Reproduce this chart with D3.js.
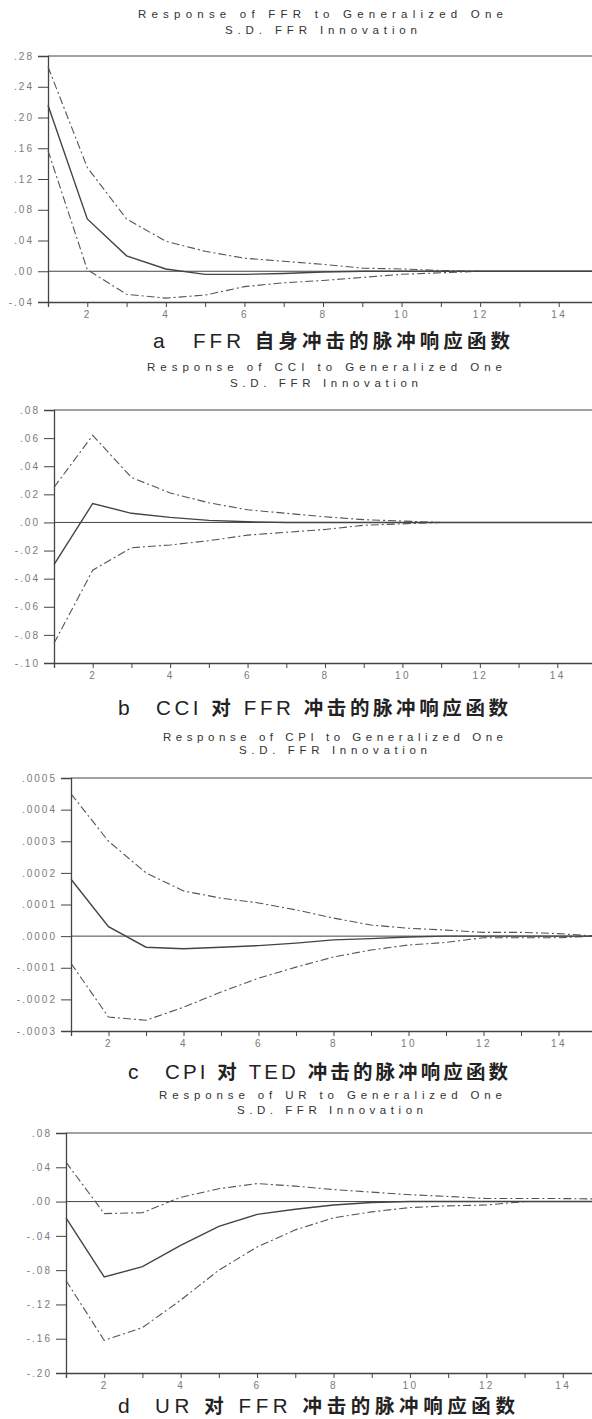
<!DOCTYPE html>
<html><head><meta charset="utf-8">
<script src="https://cdn.jsdelivr.net/npm/d3@7"></script>
<style>body{margin:0;background:#fff;}svg{display:block;}</style>
</head><body>
<script>
// ---------- DATA ----------
const periods = [1,2,3,4,5,6,7,8,9,10,11,12,13,14,15];
const xTickLabels = [2,4,6,8,10,12,14];

// a: FFR response
const ffrResp  = [0.216,0.068,0.020,0.003,-0.004,-0.004,-0.003,-0.001,0,0,0,0,0,0,0];
const ffrUpper = [0.266,0.135,0.068,0.039,0.026,0.017,0.013,0.009,0.004,0.003,0.001,0,0,0,0];
const ffrLower = [0.157,0.002,-0.030,-0.035,-0.031,-0.020,-0.015,-0.012,-0.008,-0.004,-0.002,0,0,0,0];
const ffrTicks = [0.28,0.24,0.20,0.16,0.12,0.08,0.04,0.00,-0.04];

// b: CCI response
const cciResp  = [-0.030,0.0135,0.0065,0.0036,0.0015,0.0005,0,0,0,0,0,0,0,0,0];
const cciUpper = [0.025,0.062,0.032,0.021,0.014,0.009,0.0065,0.004,0.002,0.001,0,0,0,0,0];
const cciLower = [-0.086,-0.034,-0.018,-0.016,-0.013,-0.009,-0.007,-0.005,-0.002,-0.001,0,0,0,0,0];
const cciTicks = [0.08,0.06,0.04,0.02,0.00,-0.02,-0.04,-0.06,-0.08,-0.10];

// c: CPI response
const cpiResp  = [0.00018,0.00003,-0.000035,-0.00004,-0.000035,-0.00003,-0.000022,-0.000012,-0.000008,-0.000003,0,0,0,0,0];
const cpiUpper = [0.00045,0.00030,0.00020,0.000143,0.00012,0.000105,0.000083,0.000057,0.000035,0.000025,0.000019,0.000012,0.000012,0.000008,0];
const cpiLower = [-0.000086,-0.000256,-0.000266,-0.000225,-0.000177,-0.000133,-0.000098,-0.000066,-0.000044,-0.000028,-0.00002,-0.000005,-0.000005,-0.000005,0];
const cpiTicks = [0.0005,0.0004,0.0003,0.0002,0.0001,0.0000,-0.0001,-0.0002,-0.0003];

// d: UR response
const urResp  = [-0.019,-0.088,-0.076,-0.051,-0.029,-0.015,-0.009,-0.004,-0.001,0,0,0,0,0,0];
const urUpper = [0.046,-0.014,-0.013,0.005,0.015,0.021,0.018,0.014,0.011,0.008,0.006,0.0035,0.0035,0.0035,0.003];
const urLower = [-0.092,-0.162,-0.147,-0.115,-0.080,-0.053,-0.033,-0.019,-0.012,-0.007,-0.005,-0.004,0,0,0];
const urTicks = [0.08,0.04,0.00,-0.04,-0.08,-0.12,-0.16,-0.20];

const titles1 = ["Response of FFR to Generalized One","Response of CCI to Generalized One","Response of CPI to Generalized One","Response of UR to Generalized One"];
const titles2 = ["S.D. FFR Innovation","S.D. FFR Innovation","S.D. FFR Innovation","S.D. FFR Innovation"];
const capLetters = ["a","b","c","d"];
const captions = ["FFR 自身冲击的脉冲响应函数","CCI 对 FFR 冲击的脉冲响应函数","CPI 对 TED 冲击的脉冲响应函数","UR 对 FFR 冲击的脉冲响应函数"];

// ---------- LAYOUT ----------
const panels = [
  {resp:ffrResp, up:ffrUpper, lo:ffrLower, ticks:ffrTicks, dec:2, yDom:[-0.04,0.28], yR:[302,56], xL:48, xR:598,
   t1:[138,503,18], t2:[225,417,34], cap:[153,193,510,348]},
  {resp:cciResp, up:cciUpper, lo:cciLower, ticks:cciTicks, dec:2, yDom:[-0.10,0.08], yR:[663,410], xL:54, xR:596,
   t1:[147,502,371], t2:[230,418,387], cap:[118,156,508,715]},
  {resp:cpiResp, up:cpiUpper, lo:cpiLower, ticks:cpiTicks, dec:4, yDom:[-0.0003,0.0005], yR:[1031,778], xL:71, xR:596,
   t1:[163,503,741], t2:[239,427,754], cap:[128,165,508,1079]},
  {resp:urResp, up:urUpper, lo:urLower, ticks:urTicks, dec:2, yDom:[-0.20,0.08], yR:[1373,1133], xL:66, xR:601,
   t1:[159,502,1099], t2:[237,423,1114], cap:[118,155,515,1413]}
];

const W = 592, H = 1419;
const svg = d3.select("body").append("svg").attr("width", W).attr("height", H);
const LAT = "Liberation Sans, Arial, sans-serif";
const CJK = "Noto Sans CJK SC, sans-serif";

function fmt(v, dec){
  let s = Math.abs(v).toFixed(dec).replace(/^0\./, ".");
  return (v < -1e-12 ? "-" : "") + s;
}

panels.forEach((p, i) => {
  const g = svg.append("g");
  const x = d3.scaleLinear().domain([1,15]).range([p.xL, p.xR]);
  const y = d3.scaleLinear().domain(p.yDom).range(p.yR);

  // titles
  const tstyle = sel => sel.attr("font-family",LAT)
    .attr("font-size",11.5).attr("fill","#333").attr("lengthAdjust","spacing");
  g.append("text").call(tstyle).attr("x",p.t1[0]).attr("y",p.t1[2])
    .attr("textLength",p.t1[1]-p.t1[0]).text(titles1[i]);
  g.append("text").call(tstyle).attr("x",p.t2[0]).attr("y",p.t2[2])
    .attr("textLength",p.t2[1]-p.t2[0]).text(titles2[i]);

  const top = p.yR[1], bot = p.yR[0];
  g.append("line").attr("x1",p.xL).attr("x2",W).attr("y1",top).attr("y2",top)
    .attr("stroke","#444").attr("stroke-width",1);

  // y axis
  const yAxis = d3.axisLeft(y).tickValues(p.ticks).tickSize(10).tickPadding(4)
    .tickFormat(d => fmt(d, p.dec));
  const ya = g.append("g").attr("transform",`translate(${p.xL},0)`).call(yAxis);
  ya.select(".domain").attr("stroke","#444").attr("stroke-width",1.3);
  ya.selectAll(".tick line").attr("stroke","#444");
  ya.selectAll(".tick text").attr("fill","#7a7a7a").attr("font-size",10)
    .attr("font-family",LAT).attr("letter-spacing","2px");

  // x axis
  const xAxis = d3.axisBottom(x).tickValues(d3.range(2,16)).tickSize(5).tickPadding(4)
    .tickFormat(d => xTickLabels.includes(d) ? String(d) : "");
  const xa = g.append("g").attr("transform",`translate(0,${bot})`).call(xAxis);
  xa.select(".domain").attr("stroke","#444").attr("stroke-width",1.3);
  xa.selectAll(".tick line").attr("stroke","#444");
  xa.selectAll(".tick text").attr("fill","#7a7a7a").attr("font-size",10)
    .attr("font-family",LAT).attr("letter-spacing","2.4px");

  // zero line
  g.append("line").attr("x1",p.xL).attr("x2",W).attr("y1",y(0)).attr("y2",y(0))
    .attr("stroke","#444").attr("stroke-width",1);

  const line = d3.line().x((d,k) => x(periods[k])).y(d => y(d));
  [p.up, p.lo].forEach(arr => {
    g.append("path").datum(arr).attr("d",line).attr("fill","none")
      .attr("stroke","#555").attr("stroke-width",1.1).attr("stroke-dasharray","8,3,2,3");
  });
  g.append("path").datum(p.resp).attr("d",line).attr("fill","none")
    .attr("stroke","#444").attr("stroke-width",1.4);

  // caption
  g.append("text").attr("x",p.cap[0]).attr("y",p.cap[3]).attr("font-family",LAT)
    .attr("font-size",21).attr("fill","#222").text(capLetters[i]);
  const ct = g.append("text").attr("x",p.cap[1]).attr("y",p.cap[3])
    .attr("textLength",p.cap[2]-p.cap[1]).attr("lengthAdjust","spacing")
    .attr("font-size",20).attr("fill","#222");
  captions[i].split(/(\s+)/).forEach(tok => {
    if (!tok.length) return;
    const isCJK = /[\u4e00-\u9fff]/.test(tok);
    ct.append("tspan").attr("font-family", isCJK ? CJK : LAT)
      .attr("font-weight", isCJK ? 700 : 400)
      .attr("font-size", isCJK ? 19.5 : 20.5).text(tok);
  });
});
</script>
</body></html>
